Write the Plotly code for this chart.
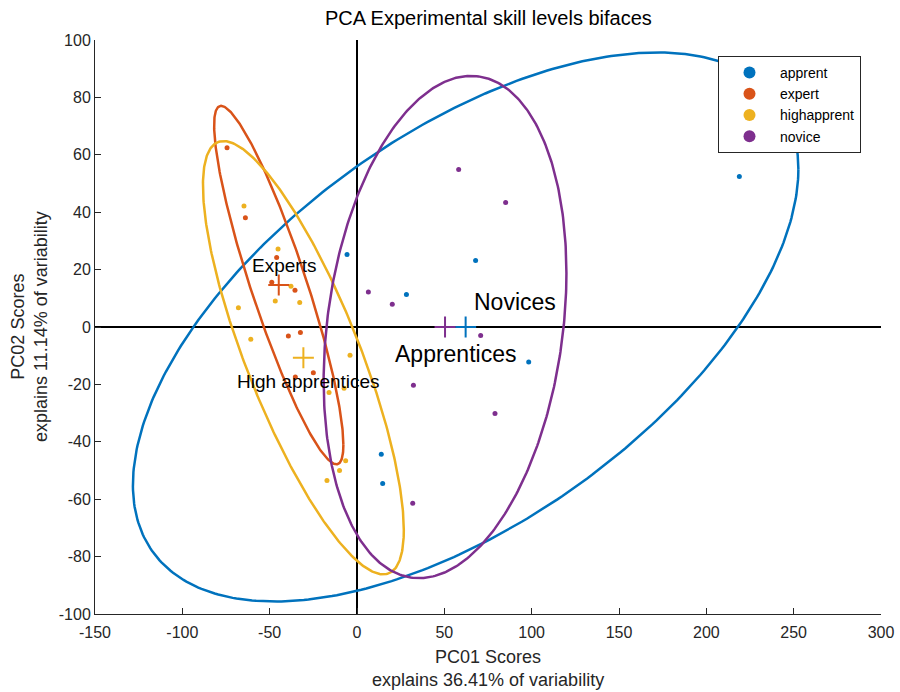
import numpy as np
import plotly.graph_objects as go

# ---- data ----
groups = ["apprent", "expert", "highapprent", "novice"]
colors = ["#0072BD", "#D95319", "#EDB120", "#7E2F8E"]

apprent_x = [218.9, -5.7, 67.9, 28.3, 98.3, 13.9, 14.7]
apprent_y = [52.4, 25.3, 23.2, 11.3, -12.2, -44.3, -54.5]
expert_x = [-74.4, -63.9, -46.0, -48.8, -35.5, -39.3, -32.4, -35.3, -25.0]
expert_y = [62.5, 38.1, 24.2, 15.6, 12.8, -3.1, -1.9, -17.4, -15.9]
highapprent_x = [-64.7, -45.2, -37.8, -46.8, -32.8, -67.9, -60.8, -4.0, -16.0, -7.4, -6.5, -10.0, -17.2]
highapprent_y = [42.2, 27.2, 14.2, 9.1, 8.5, 6.7, -4.3, -9.8, -22.8, -21.3, -46.6, -50.0, -53.5]
novice_x = [58.2, 85.1, 6.5, 20.2, 70.8, 32.3, 79.0, 31.9]
novice_y = [54.9, 43.4, 12.2, 7.9, -3.0, -20.3, -30.1, -61.4]

# group centroids
centroid_x = [62.2, -44.8, -30.7, 50.4]
centroid_y = [0.0, 14.6, -10.7, 0.0]

# confidence ellipses: half extent in x, half extent in y, correlation
ellipse_wx = [190.5, 37.0, 57.5, 69.5]
ellipse_wy = [95.65, 62.45, 75.5, 87.5]
ellipse_r = [0.575, -0.8915, -0.795, 0.214]

# text labels
label_text = ["Experts", "High apprentices", "Novices", "Apprentices"]
label_x = [-61.2, -69.8, 65.6, 20.8]
label_y = [21.6, -19.1, 8.6, -9.4]
label_size = [19, 19, 23, 23]

# ticks
x_ticks = [-150, -100, -50, 0, 50, 100, 150, 200, 250, 300]
x_tick_labels = ["-150", "-100", "-50", "0", "50", "100", "150", "200", "250", "300"]
y_ticks = [-100, -80, -60, -40, -20, 0, 20, 40, 60, 80, 100]
y_tick_labels = ["-100", "-80", "-60", "-40", "-20", "0", "20", "40", "60", "80", "100"]

xs = [apprent_x, expert_x, highapprent_x, novice_x]
ys = [apprent_y, expert_y, highapprent_y, novice_y]

FONT = "Liberation Sans, Arial, Helvetica, sans-serif"
TXT = "#262626"

fig = go.Figure()

# scatter points
for g, c, x, y in zip(groups, colors, xs, ys):
    fig.add_trace(go.Scatter(x=x, y=y, mode="markers", name=g,
                             marker=dict(color=c, size=5), showlegend=True))

# ellipses
t = np.linspace(0, 2 * np.pi, 400)
for i, c in enumerate(colors):
    wx, wy, r = ellipse_wx[i], ellipse_wy[i], ellipse_r[i]
    ex = centroid_x[i] + wx * np.cos(t)
    ey = centroid_y[i] + wy * (r * np.cos(t) + np.sqrt(1 - r * r) * np.sin(t))
    fig.add_trace(go.Scatter(x=ex, y=ey, mode="lines", line=dict(color=c, width=2.5),
                             showlegend=False, hoverinfo="skip"))

# centroids
for i, c in enumerate(colors):
    fig.add_trace(go.Scatter(x=[centroid_x[i]], y=[centroid_y[i]], mode="markers",
                             marker=dict(symbol="cross-thin", size=15, color=c,
                                         line=dict(color=c, width=2)),
                             showlegend=False))

annotations = []
for txt, lx, ly, ls in zip(label_text, label_x, label_y, label_size):
    annotations.append(dict(x=lx, y=ly, xref="x", yref="y", text=txt, showarrow=False,
                            xanchor="left", yanchor="middle",
                            font=dict(family=FONT, size=ls, color="black")))

# axis titles
annotations.append(dict(x=0.5, y=0, xref="paper", yref="paper", yanchor="top", yshift=-31,
                        text="PC01 Scores<br>explains 36.41% of variability", showarrow=False,
                        font=dict(family=FONT, size=18, color=TXT)))
annotations.append(dict(x=0, y=0.5, xref="paper", yref="paper", xanchor="center", xshift=-66,
                        text="PC02 Scores<br>explains 11.14% of variability", showarrow=False,
                        textangle=-90, font=dict(family=FONT, size=18, color=TXT)))

fig.update_layout(
    width=900, height=692,
    margin=dict(l=95, r=19, t=40, b=78),
    paper_bgcolor="white", plot_bgcolor="white",
    font=dict(family=FONT, color=TXT),
    title=dict(text="PCA Experimental skill levels bifaces", x=0.5427, xanchor="center",
               y=1 - 18 / 692, yanchor="middle", font=dict(family=FONT, size=20, color="black")),
    xaxis=dict(range=[-150, 300], tickvals=x_ticks, ticktext=x_tick_labels, automargin=False,
               ticks="inside", ticklen=6, ticklabelstandoff=4,
               tickcolor=TXT, showline=True, linecolor=TXT, linewidth=1, showgrid=False,
               zeroline=True, zerolinecolor="black", zerolinewidth=1.5,
               tickfont=dict(family=FONT, size=16, color=TXT)),
    yaxis=dict(range=[-100, 100], tickvals=y_ticks, ticktext=y_tick_labels, automargin=False,
               ticks="inside", ticklen=6,
               tickcolor=TXT, showline=True, linecolor=TXT, linewidth=1, showgrid=False,
               zeroline=True, zerolinecolor="black", zerolinewidth=1.5,
               tickfont=dict(family=FONT, size=16, color=TXT)),
    legend=dict(x=(718 - 95) / 786, y=(614 - 56) / 574, xanchor="left", yanchor="top",
                bordercolor=TXT, borderwidth=1, bgcolor="white", itemsizing="constant",
                itemwidth=51, font=dict(family=FONT, size=14, color="black")),
    annotations=annotations,
    showlegend=True,
)

fig.write_html("out.html", config={"displayModeBar": False},
               post_script="document.body.style.margin='0px';document.body.style.overflow='hidden';")
